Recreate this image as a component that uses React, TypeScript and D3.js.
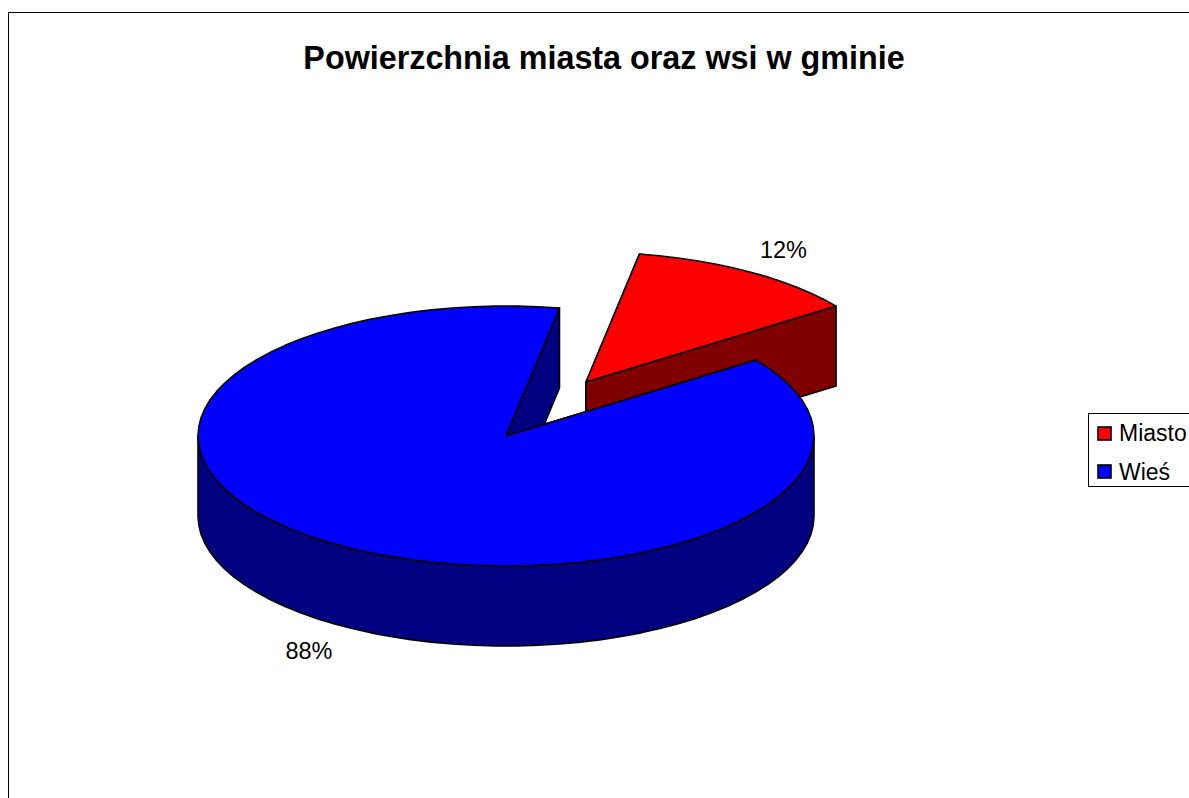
import React from "react";
import * as d3 from "d3";

const categories = ["Miasto", "Wieś"];
const shares = [12.3, 87.7];
const labels = ["12%", "88%"];
const topColors = ["#ff0000", "#0000ff"];
const sideColors = ["#800000", "#000080"];
const titleText = "Powierzchnia miasta oraz wsi w gminie";

const W = 1189, H = 798;
const cx = 506, cy = 436, rx = 308, ry = 130, depth = 80;
const explodeX = 80, explodeY = -54;
const startDeg = 10;
const FONT = "'Liberation Sans', Arial, sans-serif";

const rad = (d: number) => (d * Math.PI) / 180;
const pieGen = d3.pie<number>().sort(null).startAngle(rad(startDeg)).endAngle(rad(startDeg + 360));
const arcs = pieGen(shares);

const sx = d3.scaleLinear().domain([-1, 1]).range([cx - rx, cx + rx]);
const sy = d3.scaleLinear().domain([-1, 1]).range([cy - ry, cy + ry]);
const line = d3.line<[number, number]>().curve(d3.curveLinear);

function rim(a0: number, a1: number, dx: number, dy: number): [number, number][] {
  const n = Math.max(2, Math.ceil(Math.abs(a1 - a0) / rad(4)));
  return d3.range(n + 1).map((i) => {
    const a = a0 + ((a1 - a0) * i) / n;
    return [sx(Math.sin(a)) + dx, sy(-Math.cos(a)) + dy] as [number, number];
  });
}

const sw = 1.6;

function Wedge({ index, dx, dy }: { index: number; dx: number; dy: number }) {
  const { startAngle: a0, endAngle: a1 } = arcs[index];
  const c: [number, number] = [cx + dx, cy + dy];
  const top = rim(a0, a1, dx, dy);
  const p0 = top[0];
  const p1 = top[top.length - 1];
  const down = (p: [number, number]): [number, number] => [p[0], p[1] + depth];
  const faces: [number, number][][] = [];
  faces.push([c, p0, down(p0), down(c)]);
  faces.push([c, p1, down(p1), down(c)]);
  for (const k of [0, 1, 2]) {
    const lo = rad(90 + 360 * k), hi = rad(270 + 360 * k);
    const s = Math.max(a0, lo), e = Math.min(a1, hi);
    if (e > s) {
      const r = rim(s, e, dx, dy);
      faces.push([...r, ...r.slice().reverse().map(down)]);
    }
  }
  return (
    <g stroke="#000" strokeWidth={sw} strokeLinejoin="round">
      {faces.map((f, i) => (
        <path key={i} d={line(f) + "Z"} fill={sideColors[index]} />
      ))}
      <path d={line([c, ...top]) + "Z"} fill={topColors[index]} />
    </g>
  );
}

export default function App() {
  return (
    <svg
      width={W}
      height={H}
      viewBox={`0 0 ${W} ${H}`}
      style={{ position: "fixed", left: 0, top: 0, display: "block", background: "#fff" }}
    >
      <path d={`M8.5 ${H}V12.5H${W}`} fill="none" stroke="#000" strokeWidth={1} />
      <text x={604} y={69} textAnchor="middle" fontFamily={FONT} fontWeight="bold" fontSize={32.3} fill="#000">
        {titleText}
      </text>
      <Wedge index={0} dx={explodeX} dy={explodeY} />
      <Wedge index={1} dx={0} dy={0} />
      <text x={783.5} y={258} textAnchor="middle" fontFamily={FONT} fontSize={23.5} fill="#000">{labels[0]}</text>
      <text x={309} y={659} textAnchor="middle" fontFamily={FONT} fontSize={23.5} fill="#000">{labels[1]}</text>
      <rect x={1088.5} y={413.5} width={110} height={73} fill="#fff" stroke="#000" strokeWidth={1} />
      {categories.map((c, i) => (
        <g key={c}>
          <rect x={1098} y={427} width={13} height={13} transform={`translate(0 ${i * 38})`} fill={topColors[i]} stroke="#000" strokeWidth={1.6} />
          <text x={1119} y={441 + i * 39} fontFamily={FONT} fontSize={23} fill="#000">{c}</text>
        </g>
      ))}
    </svg>
  );
}
